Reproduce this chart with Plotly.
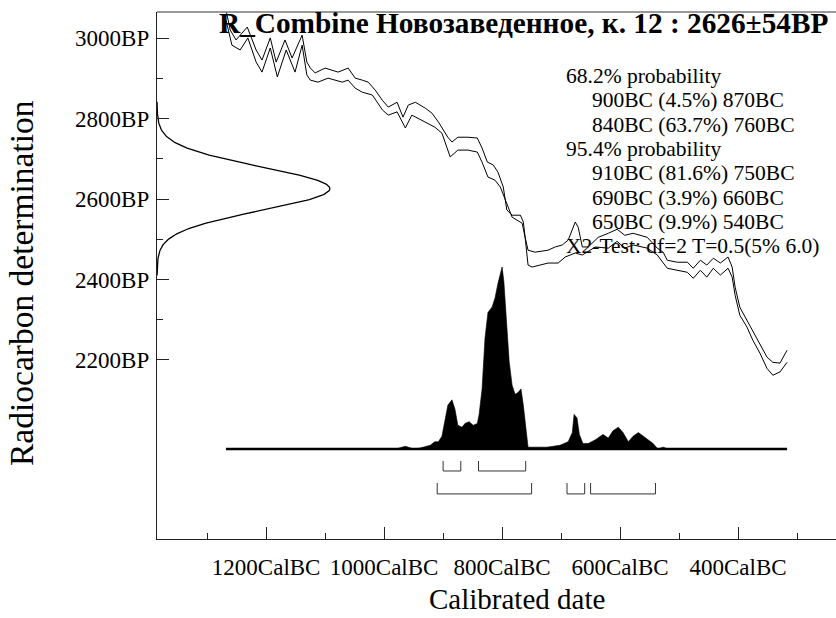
import numpy as np
import plotly.graph_objects as go

# ---- Measurement -------------------------------------------------------
sample_name = "R_Combine Новозаведенное, к. 12"
mean_bp = 2626
sd_bp = 54

# ---- Calibration curve (+/- 1 sigma), years BC vs radiocarbon age BP ----
upper_years = [1268, 1261, 1251, 1232, 1217, 1207, 1193, 1183, 1168, 1156, 1139, 1131,
               1125, 1117, 1100, 1078, 1061, 1049, 1037, 1027, 1015, 1003, 993, 978,
               968, 959, 947, 930, 919, 908, 892, 885, 875, 858, 842, 834, 825, 815,
               807, 798, 792, 783, 769, 764, 761, 756, 744, 722, 710, 698, 688, 676,
               671, 664, 654, 637, 620, 605, 592, 578, 554, 537, 527, 520, 503, 486,
               476, 464, 453, 442, 430, 417, 410, 405, 397, 385, 375, 363, 351, 341,
               329, 317]
upper_bp = [3070, 3021, 2996, 3028, 2971, 2946, 3001, 2941, 2996, 2951, 3008, 2941,
            2926, 2914, 2926, 2916, 2926, 2901, 2896, 2891, 2871, 2846, 2829, 2841,
            2804, 2834, 2841, 2826, 2814, 2792, 2754, 2742, 2754, 2754, 2752, 2727,
            2692, 2685, 2667, 2630, 2573, 2560, 2560, 2543, 2505, 2473, 2468, 2473,
            2481, 2486, 2498, 2543, 2530, 2481, 2481, 2505, 2515, 2525, 2510, 2515,
            2505, 2478, 2468, 2448, 2443, 2443, 2428, 2448, 2436, 2453, 2441, 2456,
            2431, 2381, 2331, 2299, 2274, 2242, 2207, 2194, 2192, 2224]
lower_years = [1268, 1258, 1244, 1231, 1217, 1207, 1193, 1181, 1166, 1151, 1139, 1131,
               1125, 1112, 1095, 1071, 1061, 1049, 1037, 1020, 1003, 993, 978, 964,
               953, 930, 914, 902, 888, 875, 858, 842, 834, 824, 812, 803, 795, 783,
               766, 761, 756, 749, 722, 705, 693, 676, 664, 642, 620, 605, 592, 578,
               554, 537, 520, 503, 486, 476, 464, 453, 442, 430, 417, 410, 405, 397,
               385, 375, 363, 351, 341, 329, 317]
lower_bp = [3045, 2983, 2971, 3001, 2941, 2916, 2976, 2904, 2971, 2916, 2983, 2909,
            2896, 2891, 2901, 2891, 2896, 2876, 2866, 2859, 2822, 2809, 2817, 2777,
            2809, 2792, 2779, 2764, 2705, 2722, 2722, 2717, 2692, 2655, 2647, 2630,
            2598, 2555, 2540, 2505, 2436, 2431, 2441, 2441, 2456, 2466, 2461, 2481,
            2478, 2495, 2478, 2486, 2478, 2461, 2428, 2423, 2418, 2403, 2423, 2406,
            2428, 2411, 2428, 2406, 2361, 2311, 2282, 2249, 2217, 2179, 2162, 2170,
            2194]

# ---- Calibrated (posterior) probability, relative to its maximum ---------
post_years = [1268, 980, 964, 950, 939, 922, 914, 908, 902, 897, 892, 885, 880, 875,
              868, 863, 856, 849, 842, 839, 834, 829, 824, 817, 812, 807, 800, 797,
              792, 788, 783, 778, 773, 768, 764, 759, 756, 747, 724, 702, 688, 681,
              678, 673, 669, 663, 654, 642, 629, 620, 612, 603, 595, 586, 578, 569,
              561, 553, 544, 536, 527, 519, 317]
post_prob = [0, 0, 0.015, 0, 0.005, 0.02, 0.04, 0.04, 0.07, 0.15, 0.24, 0.27, 0.22, 0.13,
             0.12, 0.14, 0.15, 0.13, 0.14, 0.19, 0.33, 0.61, 0.75, 0.78, 0.83, 0.91, 1.0, 0.92,
             0.70, 0.48, 0.35, 0.30, 0.31, 0.33, 0.24, 0.08, 0.01, 0.01, 0.01, 0.02, 0.04, 0.09,
             0.19, 0.17, 0.08, 0.03, 0.03, 0.05, 0.08, 0.06, 0.10, 0.12, 0.09, 0.04, 0.07, 0.09,
             0.07, 0.05, 0.03, 0.0, 0.01, 0.0, 0]

# ---- Highest probability ranges ------------------------------------------
r68_from = [900, 840]
r68_to = [870, 760]
r68_pct = ["4.5", "63.7"]
r95_from = [910, 690, 650]
r95_to = [750, 660, 540]
r95_pct = ["81.6", "3.9", "9.9"]
chi2_text = "X2-Test: df=2 T=0.5(5% 6.0)"

# ---- Axis ticks ------------------------------------------------------------
x_major = [1200, 1000, 800, 600, 400]
x_minor = [1300, 1100, 900, 700, 500, 300]
y_major = [2200, 2400, 2600, 2800, 3000]
y_minor = [2300, 2500, 2700, 2900]

# ---- Layout geometry (pixels) ------------------------------------------------
W, H = 836, 618
L, R, T, B = 157, 836, 12, 539
X_RANGE = [-1385, -234]          # years, negative = BC
Y_RANGE = [1754.5, 3065.5]       # BP
P_RANGE = [-0.4947, 2.401]       # probability axis (baseline sits low in plot)
FONT = "Liberation Serif"


def px_x(px):
    return (px - L) / (R - L)


def px_y(py):
    return (B - py) / (B - T)


def bc(years):
    return [-y for y in years]


fig = go.Figure()

# calibration curve envelope
fig.add_trace(go.Scatter(x=bc(upper_years), y=upper_bp, mode="lines",
                         line=dict(color="black", width=1), hoverinfo="skip"))
fig.add_trace(go.Scatter(x=bc(lower_years), y=lower_bp, mode="lines",
                         line=dict(color="black", width=1), hoverinfo="skip"))

# measurement normal distribution along the radiocarbon axis
g_bp = np.linspace(mean_bp - 4 * sd_bp, mean_bp + 4 * sd_bp, 200)
g_amp = 293  # horizontal extent of the peak in years
g_x = X_RANGE[0] + g_amp * np.exp(-0.5 * ((g_bp - mean_bp) / sd_bp) ** 2)
fig.add_trace(go.Scatter(x=g_x, y=g_bp, mode="lines",
                         line=dict(color="black", width=1.3), hoverinfo="skip"))

# calibrated distribution
fig.add_trace(go.Scatter(x=bc(post_years), y=post_prob, yaxis="y2", mode="lines",
                         fill="tozeroy", fillcolor="black",
                         line=dict(color="black", width=0.6), hoverinfo="skip"))
fig.add_trace(go.Scatter(x=bc([post_years[0], post_years[-1]]), y=[0, 0], yaxis="y2",
                         mode="lines", line=dict(color="black", width=2.5),
                         hoverinfo="skip"))


# range brackets
def bracket(starts, ends, top, bottom):
    xs, ys = [], []
    for s, e in zip(starts, ends):
        xs += [-s, -s, -e, -e, None]
        ys += [top, bottom, bottom, top, None]
    return go.Scatter(x=xs, y=ys, yaxis="y2", mode="lines",
                      line=dict(color="#333333", width=1), hoverinfo="skip")


fig.add_trace(bracket(r68_from, r68_to, -0.066, -0.121))
fig.add_trace(bracket(r95_from, r95_to, -0.187, -0.247))

# text
ann = []
ann.append(dict(text=f"<b>{sample_name} : {mean_bp}±{sd_bp}BP</b>",
                x=px_x(217), y=px_y(23), xanchor="left", yanchor="middle",
                font=dict(family=FONT, size=29.3, color="black")))
lines = [("68.2% probability", 0)]
for s, p, e in zip(r68_from, r68_pct, r68_to):
    lines.append((f"{s}BC ({p}%) {e}BC", 1))
lines.append(("95.4% probability", 0))
for s, p, e in zip(r95_from, r95_pct, r95_to):
    lines.append((f"{s}BC ({p}%) {e}BC", 1))
lines.append((chi2_text, 0))
for i, (txt, indent) in enumerate(lines):
    ann.append(dict(text=txt, x=px_x(564 + 26 * indent), y=px_y(76 + 24.3 * i),
                    xanchor="left", yanchor="middle",
                    font=dict(family=FONT, size=21.5, color="black")))
ann.append(dict(text="Calibrated date", x=px_x(517), y=px_y(599),
                xanchor="center", yanchor="middle",
                font=dict(family=FONT, size=29, color="black")))
ann.append(dict(text="Radiocarbon determination", x=px_x(22), y=px_y(283),
                xanchor="center", yanchor="middle", textangle=-90,
                font=dict(family=FONT, size=33.5, color="black")))
for a in ann:
    a.update(xref="paper", yref="paper", showarrow=False)

fig.update_layout(
    width=W, height=H,
    margin=dict(l=L, r=W - R, t=T, b=H - B),
    paper_bgcolor="white", plot_bgcolor="white",
    showlegend=False,
    font=dict(family=FONT, color="black"),
    annotations=ann,
    xaxis=dict(range=X_RANGE, showgrid=False, zeroline=False,
               showline=True, linecolor="#222", linewidth=1.3,
               ticks="inside", ticklen=12, tickwidth=1, tickcolor="#222",
               tickvals=[-v for v in x_major],
               ticktext=[f"{v}CalBC" for v in x_major],
               tickfont=dict(family=FONT, size=23, color="black"), ticklabelstandoff=7,
               minor=dict(tickvals=[-v for v in x_minor], ticks="inside",
                          ticklen=6, tickcolor="#222", showgrid=False)),
    yaxis=dict(range=Y_RANGE, showgrid=False, zeroline=False,
               showline=True, linecolor="#222", linewidth=1.3,
               ticks="inside", ticklen=12, tickwidth=1, tickcolor="#222",
               tickvals=y_major, ticktext=[f"{v}BP" for v in y_major],
               tickfont=dict(family=FONT, size=23, color="black"), ticklabelstandoff=2,
               minor=dict(tickvals=y_minor, ticks="inside",
                          ticklen=6, tickcolor="#222", showgrid=False)),
    yaxis2=dict(range=P_RANGE, overlaying="y", visible=False),
    shapes=[dict(type="line", xref="paper", yref="paper", x0=0, x1=1, y0=1, y1=1,
                 line=dict(color="#777", width=1.3))],
)

fig.write_html("out.html")
